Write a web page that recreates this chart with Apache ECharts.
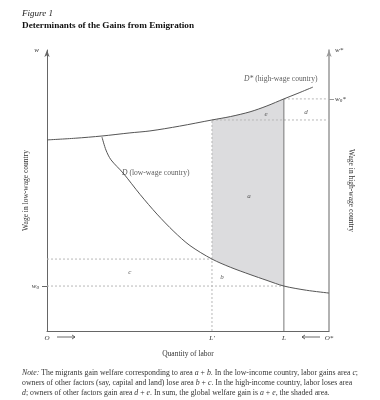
<!DOCTYPE html>
<html><head><meta charset="utf-8">
<script src="https://cdn.jsdelivr.net/npm/echarts@6/dist/echarts.min.js"></script>
<style>html,body{margin:0;padding:0;background:#fff}#c{width:380px;height:400px}</style>
</head><body><div id="c"></div>
<script>
// ---- data (axes scaled 0..100) ----
const lowWageDemand = [[19.5,69.0],[20.9,64.4],[22.7,60.9],[27.0,56.2],[33.0,48.6],[39.0,41.6],[45.0,35.4],[50.7,30.4],[58.5,25.6],[65.0,22.7],[72.0,20.1],[78.0,18.0],[84.0,16.0],[92.0,14.5],[100,13.5]];
const highWageDemand = [[0,68.0],[10,68.6],[19.5,69.4],[29.4,70.5],[36.5,71.2],[47.0,72.9],[58.5,75.1],[65.0,76.3],[72.0,78.0],[78.0,80.1],[84.0,82.6],[89.0,84.6],[94.3,86.8]];
const L_PRIME = 58.5;
const L_TOTAL = 84.0;
const W_ZERO = 16.0;
const W_ZERO_STAR = 82.6;
const W_LOW_AT_LPRIME = 25.6;
const W_HIGH_AT_LPRIME = 75.1;
const xTickValues = [0, L_PRIME, L_TOTAL, 100];
const xTickLabels = ['O', 'L′', 'L', 'O*'];
const leftTickValues = [W_ZERO, 100];
const leftTickLabels = ['{i|w}{s|0}', '{i|w}'];
const rightTickValues = [W_ZERO_STAR, 100];
const rightTickLabels = ['{i|w}{s|0}{i|*}', '{i|w*}'];
const areaLabels = [['a',71.6,48.0],['b',62.1,19.2],['c',29.4,21.0],['d',91.8,77.9],['e',77.7,77.2]];
const curveLabels = [['{i|D*} (high-wage country)',69.9,89.7],['{i|D} (low-wage country)',26.6,56.2]];

const FONT = 'Liberation Serif';
const rich = {
  i:{fontStyle:'italic',fontFamily:FONT,fontSize:7,color:'#333'},
  s:{fontStyle:'italic',fontFamily:FONT,fontSize:5,color:'#333',padding:[4,0,0,0]}
};
const chart = echarts.init(document.getElementById('c'), null, {renderer:'canvas'});

function dotted(a, b, color, type) {
  return {type:'line', data:[a,b], symbol:'none', silent:true, z:3,
    lineStyle:{color:color||'#b8b8b8', width:1, type:type||[2,2]}};
}

const shadeLow = lowWageDemand.filter(p => p[0] >= L_PRIME && p[0] <= L_TOTAL);
const shadeHigh = highWageDemand.filter(p => p[0] >= L_PRIME && p[0] <= L_TOTAL);
const noteRich = {n:{fontStyle:'italic', fontFamily:FONT, fontSize:7.8, fill:'#333'}};

const option = {
  animation:false,
  backgroundColor:'#fff',
  grid:{left:47, right:51, top:50, bottom:69},
  xAxis:{type:'value', min:0, max:100,
    name:'Quantity of labor', nameLocation:'middle', nameGap:19, nameMoveOverlap:false,
    nameTextStyle:{fontFamily:FONT, fontSize:7.5, color:'#333'},
    axisLine:{lineStyle:{color:'#666', width:1}},
    axisTick:{show:false}, splitLine:{show:false},
    axisLabel:{customValues:xTickValues, margin:4, fontFamily:FONT, fontSize:7, fontStyle:'italic', color:'#333',
      formatter:(v)=>xTickLabels[xTickValues.indexOf(v)] || ''}},
  yAxis:[
    {type:'value', min:0, max:100, position:'left',
      name:'Wage in low-wage country', nameLocation:'middle', nameRotate:90, nameGap:17, nameMoveOverlap:false,
      nameTextStyle:{fontFamily:FONT, fontSize:7.5, color:'#333'},
      axisLine:{show:true, symbol:['none','arrow'], symbolSize:[4,7], lineStyle:{color:'#666', width:1}},
      axisTick:{show:true, customValues:[W_ZERO], length:5, lineStyle:{color:'#666'}},
      splitLine:{show:false},
      axisLabel:{customValues:leftTickValues, margin:8, rich:rich,
        formatter:(v)=>leftTickLabels[leftTickValues.indexOf(v)] || ''}},
    {type:'value', min:0, max:100, position:'right',
      name:'Wage in high-wage country', nameLocation:'middle', nameRotate:-90, nameGap:18, nameMoveOverlap:false,
      nameTextStyle:{fontFamily:FONT, fontSize:7.5, color:'#333'},
      axisLine:{show:true, symbol:['none','arrow'], symbolSize:[4,7], lineStyle:{color:'#999', width:1.5}},
      axisTick:{show:true, customValues:[W_ZERO_STAR], length:5, lineStyle:{color:'#999'}},
      splitLine:{show:false},
      axisLabel:{customValues:rightTickValues, margin:6, rich:rich,
        formatter:(v)=>rightTickLabels[rightTickValues.indexOf(v)] || ''}}
  ],
  graphic:[
    {type:'text', left:22, top:9, style:{text:'Figure 1', font:'italic 9px "Liberation Serif"', fill:'#222'}},
    {type:'text', left:22, top:21, style:{text:'Determinants of the Gains from Emigration', font:'bold 9.2px "Liberation Serif"', fill:'#111'}},
    {type:'line', shape:{x1:57,y1:337,x2:75,y2:337}, style:{stroke:'#444', lineWidth:0.8}},
    {type:'polyline', shape:{points:[[72,335],[75,337],[72,339]]}, style:{stroke:'#444', lineWidth:0.8, fill:null}},
    {type:'line', shape:{x1:302,y1:337,x2:320,y2:337}, style:{stroke:'#444', lineWidth:0.8}},
    {type:'polyline', shape:{points:[[305,335],[302,337],[305,339]]}, style:{stroke:'#444', lineWidth:0.8, fill:null}},
    {type:'text', left:22, top:369, style:{text:'{n|Note:} The migrants gain welfare corresponding to area {n|a} + {n|b}. In the low-income country, labor gains area {n|c};',
      font:'7.8px "Liberation Serif"', fill:'#333', rich:noteRich}},
    {type:'text', left:22, top:379, style:{text:'owners of other factors (say, capital and land) lose area {n|b} + {n|c}. In the high-income country, labor loses area',
      font:'7.8px "Liberation Serif"', fill:'#333', rich:noteRich}},
    {type:'text', left:22, top:389, style:{text:'{n|d}; owners of other factors gain area {n|d} + {n|e}. In sum, the global welfare gain is {n|a} + {n|e}, the shaded area.',
      font:'7.8px "Liberation Serif"', fill:'#333', rich:noteRich}}
  ],
  series:[
    {type:'custom', silent:true, z:1, data:[[0]],
      renderItem:(params, api)=>{
        const pts = shadeLow.map(p=>api.coord(p)).concat(shadeHigh.slice().reverse().map(p=>api.coord(p)));
        return {type:'polygon', shape:{points:pts}, style:{fill:'#dcdcde', stroke:null}};
      }},
    dotted([0,W_LOW_AT_LPRIME],[L_PRIME,W_LOW_AT_LPRIME]),
    dotted([0,W_ZERO],[L_TOTAL,W_ZERO]),
    dotted([L_PRIME,W_HIGH_AT_LPRIME],[100,W_HIGH_AT_LPRIME]),
    dotted([L_TOTAL,W_ZERO_STAR],[100,W_ZERO_STAR]),
    dotted([L_PRIME,0],[L_PRIME,W_HIGH_AT_LPRIME]),
    {type:'line', data:[[L_TOTAL,0],[L_TOTAL,W_ZERO_STAR]], symbol:'none', silent:true, z:4,
      lineStyle:{color:'#777', width:1}},
    {type:'line', data:lowWageDemand, smooth:0.3, symbol:'none', silent:true, z:5,
      lineStyle:{color:'#555', width:1}},
    {type:'line', data:highWageDemand, smooth:0.3, symbol:'none', silent:true, z:5,
      lineStyle:{color:'#555', width:1}},
    {type:'scatter', symbolSize:0, silent:true, z:6,
      data:areaLabels.map(d=>({value:[d[1],d[2]], name:d[0]})),
      label:{show:true, position:'inside', formatter:(p)=>p.name, fontFamily:FONT, fontStyle:'italic', fontSize:7, color:'#333'}},
    {type:'scatter', symbolSize:0, silent:true, z:6,
      data:curveLabels.map(d=>({value:[d[1],d[2]], name:d[0]})),
      label:{show:true, position:'right', distance:0, formatter:(p)=>p.name, fontFamily:FONT, fontSize:7.6, color:'#333',
        rich:{i:{fontStyle:'italic', fontFamily:FONT, fontSize:7.6, color:'#333'}}}}
  ]
};
chart.setOption(option);
</script></body></html>
